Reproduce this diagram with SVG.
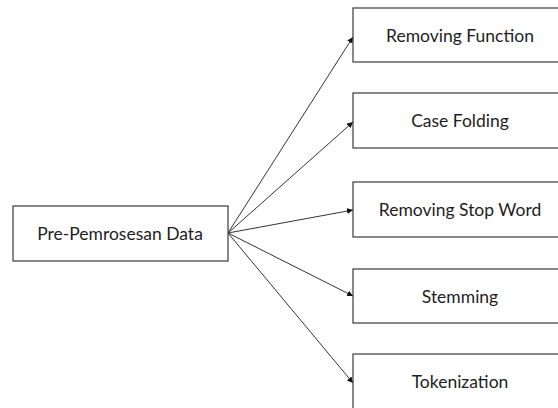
<svg xmlns="http://www.w3.org/2000/svg" width="558" height="408" viewBox="0 0 558 408">
<style>
.box{fill:#fff;stroke:#3a3a3a;stroke-width:1.2}
.lbl{font-family:Lato,"Open Sans",sans-serif;font-size:17.5px;fill:#1e1e1e;text-anchor:middle}
.edge{stroke:#333;stroke-width:1;fill:none;marker-end:url(#ah)}
</style>
<defs>
<marker id="ah" viewBox="0 0 10 10" refX="10" refY="5" markerWidth="6" markerHeight="6" orient="auto" markerUnits="userSpaceOnUse">
<path d="M0,0 L10,5 L0,10 z" fill="#111"/>
</marker>
</defs>
<rect width="558" height="408" fill="#fff"/>
<g id="connectors">
<line class="edge" x1="228" y1="233" x2="353" y2="37"/>
<line class="edge" x1="228" y1="233" x2="353" y2="122"/>
<line class="edge" x1="228" y1="233" x2="353" y2="210"/>
<line class="edge" x1="228" y1="233" x2="353" y2="296"/>
<line class="edge" x1="228" y1="233" x2="353" y2="383"/>
</g>
<g id="pre">
<rect class="box" x="13" y="206" width="215" height="55"/>
<text class="lbl" x="120" y="239.5">Pre-Pemrosesan Data</text>
</g>
<g id="removing-function">
<rect class="box" x="353" y="8" width="215" height="54"/>
<text class="lbl" x="460" y="41.5">Removing Function</text>
</g>
<g id="case-folding">
<rect class="box" x="353" y="93" width="215" height="55"/>
<text class="lbl" x="460" y="126.5">Case Folding</text>
</g>
<g id="removing-stop-word">
<rect class="box" x="353" y="182" width="215" height="55"/>
<text class="lbl" x="460" y="215.5">Removing Stop Word</text>
</g>
<g id="stemming">
<rect class="box" x="353" y="269" width="215" height="54"/>
<text class="lbl" x="460" y="302.5">Stemming</text>
</g>
<g id="tokenization">
<rect class="box" x="353" y="354" width="215" height="56"/>
<text class="lbl" x="460" y="387.5">Tokenization</text>
</g>
</svg>
